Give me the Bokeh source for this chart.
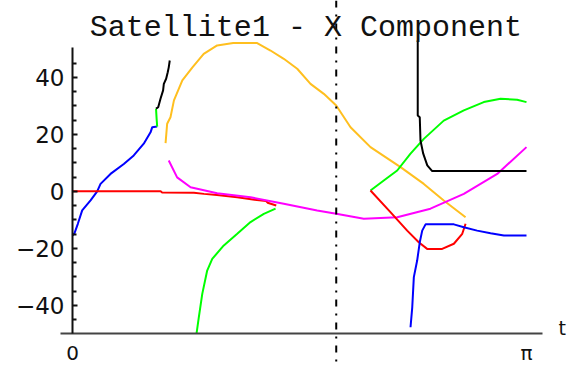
import math
from bokeh.plotting import figure
from bokeh.models import FixedTicker, LinearAxis, Span, Label, Range1d
from bokeh.embed import file_html
from bokeh.resources import INLINE

# ---- trajectory branches: time t and x-component value ----
blue1_t = [0.0, 0.014, 0.037, 0.067, 0.125, 0.171, 0.194, 0.263, 0.355, 0.424, 0.493, 0.540, 0.552, 0.586]
blue1_y = [-15.5, -14.7, -11.4, -6.7, -3.2, 0.0, 2.6, 6.1, 9.6, 12.6, 16.7, 20.7, 22.5, 22.7]

green1_t = [0.586, 0.582, 0.578]
green1_y = [22.7, 25.5, 29.0]

black1_t = [0.578, 0.593, 0.609, 0.627, 0.632, 0.648, 0.659, 0.666, 0.673]
black1_y = [29.0, 29.5, 32.5, 35.4, 37.7, 39.5, 41.8, 43.5, 45.9]

red1_t = [0.0, 0.61, 0.62, 0.84, 0.91, 1.00, 1.14, 1.26, 1.34, 1.35, 1.41]
red1_y = [0.0, 0.0, -0.4, -0.5, -0.9, -1.3, -2.1, -3.0, -3.4, -4.0, -5.0]

orange_t = [0.644, 0.655, 0.678, 0.702, 0.760, 0.830, 0.908, 1.001, 1.112, 1.278, 1.370,
            1.462, 1.555, 1.647, 1.739, 1.825, 1.924, 2.062, 2.270, 2.431, 2.569, 2.720]
orange_y = [16.9, 23.7, 26.0, 31.9, 38.9, 43.5, 48.2, 51.2, 52.0, 52.0, 49.4,
            46.5, 43.0, 37.7, 34.2, 30.1, 22.5, 15.5, 8.5, 2.6, -3.2, -9.1]

magenta_t = [0.666, 0.724, 0.817, 1.001, 1.232, 1.462, 1.693, 1.825, 2.016, 2.247, 2.477,
             2.708, 2.939, 3.1416]
magenta_y = [10.8, 4.9, 1.4, -0.7, -2.1, -4.4, -6.7, -7.9, -9.6, -9.1, -6.1,
             -0.9, 6.1, 15.5]

green2_t = [0.858, 0.874, 0.898, 0.932, 0.967, 1.047, 1.140, 1.232, 1.324, 1.405]
green2_y = [-50.0, -44.2, -36.0, -27.8, -23.7, -19.0, -14.9, -10.8, -7.9, -6.1]

green3_t = [2.062, 2.154, 2.247, 2.339, 2.431, 2.569, 2.708, 2.846, 2.962, 3.077, 3.1416]
green3_y = [0.3, 3.8, 7.3, 13.2, 18.4, 24.8, 28.4, 31.3, 32.5, 32.1, 31.3]

red2_t = [2.062, 2.200, 2.316, 2.396, 2.454, 2.558, 2.639, 2.697, 2.720]
red2_y = [0.3, -7.3, -13.8, -17.9, -20.2, -20.2, -18.4, -14.9, -11.4]

blue2_t = [2.339, 2.351, 2.362, 2.385, 2.403, 2.420, 2.443, 2.639, 2.708, 2.800, 2.893, 2.985, 3.1416]
blue2_y = [-47.7, -40.7, -30.1, -24.3, -17.9, -13.8, -11.6, -11.6, -12.6, -13.8, -14.7, -15.5, -15.5]

black2_t = [2.389, 2.389, 2.403, 2.408, 2.427, 2.455, 2.489, 3.1416]
black2_y = [52.9, 26.6, 26.0, 17.8, 13.2, 9.1, 7.1, 7.1]

# marked instant (vertical dash-dot line)
t_marker = 1.825

# axis ticks
y_major = [-40, -20, 0, 20, 40]
y_minor = [-45, -35, -30, -25, -15, -10, -5, 5, 10, 15, 25, 30, 35, 45]
x_ticks = [0.0, math.pi]
x_tick_labels = {0.0: "0", math.pi: "π"}

title_text = "Satellite1 - X Component"
x_label = "t"

p = figure(width=571, height=366, output_backend="svg", toolbar_location=None,
           x_range=Range1d(-0.4982, 3.4530), y_range=Range1d(-61.47, 66.95),
           x_axis_type=None, y_axis_type=None, min_border=0,
           background_fill_color="white", border_fill_color="white")
p.outline_line_color = None
p.xgrid.visible = False
p.ygrid.visible = False

# vertical axis through t = 0
yax = LinearAxis(fixed_location=0, bounds=(-50, 50.6),
                 ticker=FixedTicker(ticks=y_major, minor_ticks=y_minor))
yax.axis_line_color = "#111111"
yax.axis_line_width = 2
yax.major_tick_in = 5
yax.major_tick_out = 0
yax.minor_tick_in = 4
yax.minor_tick_out = 0
yax.major_tick_line_color = "#111111"
yax.minor_tick_line_color = "#111111"
yax.major_tick_line_width = 2
yax.minor_tick_line_width = 2
yax.major_label_standoff = 8
yax.major_label_text_font = "DejaVu Sans"
yax.major_label_text_font_size = "23px"
yax.major_label_text_color = "#111111"
p.add_layout(yax, "left")

# horizontal axis along the bottom of the value range
xax = LinearAxis(fixed_location=-50, bounds=(-0.083, 3.252),
                 ticker=FixedTicker(ticks=x_ticks, minor_ticks=[]),
                 major_label_overrides=x_tick_labels)
xax.axis_line_color = "#444444"
xax.axis_line_width = 2
xax.major_tick_in = 0
xax.major_tick_out = 0
xax.minor_tick_in = 0
xax.minor_tick_out = 0
xax.major_label_standoff = 7
xax.major_label_text_font = "DejaVu Sans"
xax.major_label_text_font_size = "20px"
xax.major_label_text_color = "#111111"
p.add_layout(xax, "below")

p.add_layout(Span(location=t_marker, dimension="height", line_color="black",
                  line_width=2, line_dash="7 7 2 7"))

lw = 2
p.line(blue1_t, blue1_y, line_color="#0000FF", line_width=lw)
p.line(green1_t, green1_y, line_color="#00FF00", line_width=lw)
p.line(black1_t, black1_y, line_color="#000000", line_width=lw)
p.line(red1_t, red1_y, line_color="#FF0000", line_width=lw)
p.line(orange_t, orange_y, line_color="#FFBF1F", line_width=lw)
p.line(magenta_t, magenta_y, line_color="#FF00FF", line_width=lw)
p.line(green2_t, green2_y, line_color="#00FF00", line_width=lw)
p.line(green3_t, green3_y, line_color="#00FF00", line_width=lw)
p.line(red2_t, red2_y, line_color="#FF0000", line_width=lw)
p.line(blue2_t, blue2_y, line_color="#0000FF", line_width=lw)
p.line(black2_t, black2_y, line_color="#000000", line_width=lw)

p.add_layout(Label(x=1.615, y=57.4, text=title_text, text_align="center",
                   text_baseline="alphabetic", text_font="Liberation Mono",
                   text_font_size="30px", text_color="#111111"))
p.add_layout(Label(x=3.363, y=-47.9, text=x_label, text_align="left",
                   text_baseline="alphabetic", text_font="DejaVu Sans",
                   text_font_size="19px", text_color="#111111"))

open("out.html", "w").write(file_html(p, INLINE))
